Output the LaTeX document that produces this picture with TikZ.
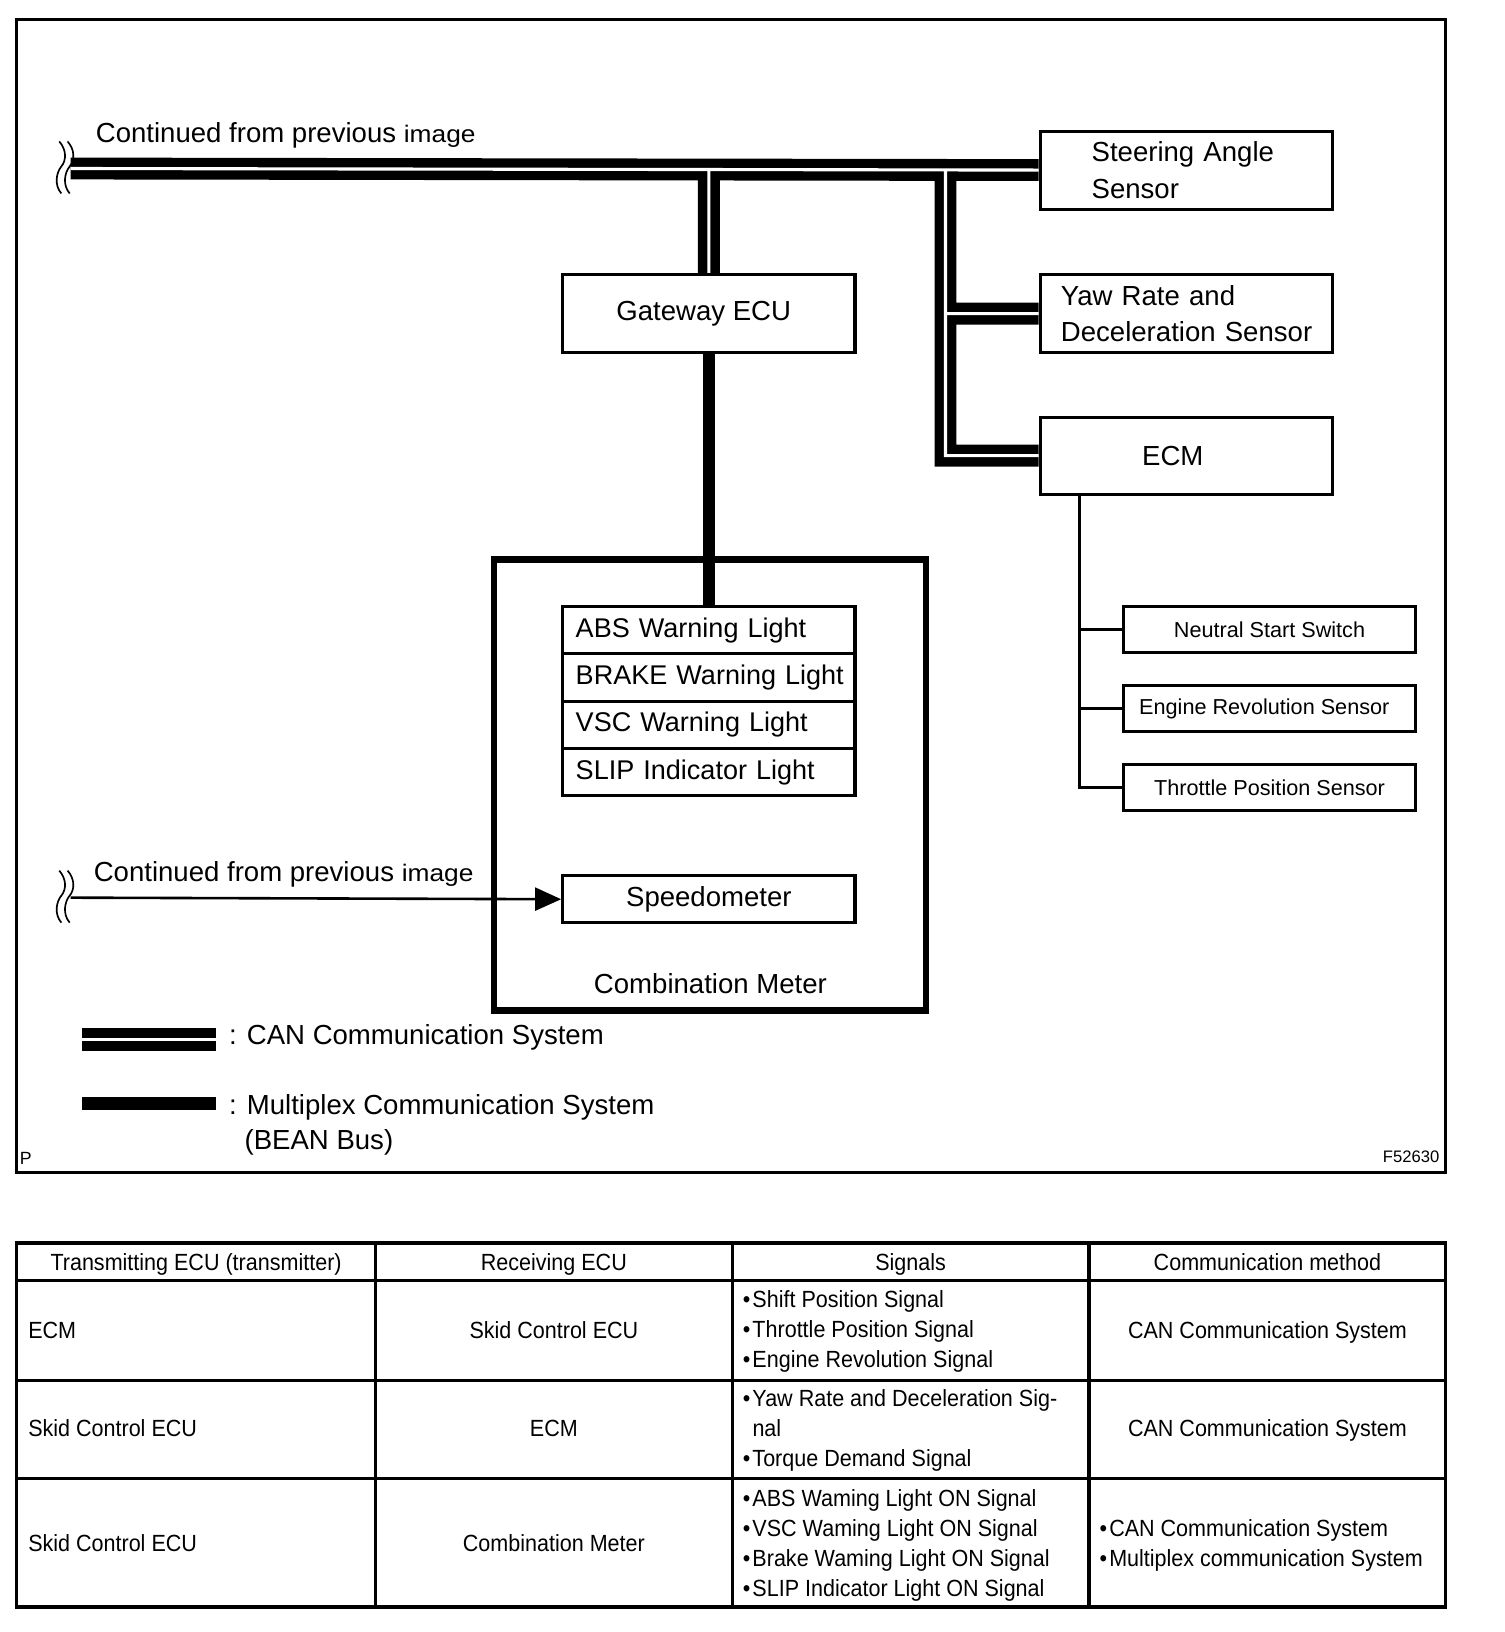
\documentclass[tikz,border=0pt]{standalone}
\usepackage{fontspec}
\setmainfont{Liberation Sans}
\newfontfamily\tabfont[FakeStretch=0.92]{Liberation Sans}
\newfontfamily\widefont[FakeStretch=1.1]{Liberation Sans}
\usetikzlibrary{arrows.meta}
\pgfdeclarelayer{bglayer}
\pgfdeclarelayer{connlayer}
\pgfsetlayers{bglayer,connlayer,main}
\hfuzz=20pt
\hbadness=10000
\begin{document}
\begin{tikzpicture}[x=1pt,y=-1pt,
  box/.style={draw, line width=3pt, fill=white, inner sep=0pt, anchor=north west,
    minimum width=281pt, font=\fontsize{26.5}{35}\selectfont},
  lbox/.style={box, align=left},
  wlbox/.style={box, minimum height=45.5pt, align=left, text width=256pt,
    inner xsep=12.5pt, font=\fontsize{26}{30}\selectfont},
  sbox/.style={box, minimum height=44.5pt, font=\fontsize{20.8}{24}\selectfont},
  canblack/.style={line width=21pt, line join=miter},
  canwhite/.style={line width=3pt, white, line join=miter},
  bean/.style={line width=11.5pt},
  wire/.style={line width=3pt},
  sigline/.style={line width=2.5pt, -{Triangle[length=25pt,width=22pt]}},
  breakmark/.style={line width=1.6pt},
  tabline/.style={line width=3pt},
  txt/.style={inner sep=0pt, font=\fontsize{26.5}{35}\selectfont},
  tab/.style={inner sep=0pt, font=\tabfont\fontsize{22.5}{29}\selectfont},
  smalltxt/.style={inner sep=0pt, font=\fontsize{16}{18}\selectfont}
]
\begin{pgfonlayer}{bglayer}
  \fill[white] (0,0) rectangle (1446,1569);
\end{pgfonlayer}
\useasboundingbox (0,0) rectangle (1446,1569);

% outer frame
\draw[line width=3pt] (16,19) rectangle (1390,1127);

% boxes
\node[lbox, minimum height=75pt, text width=182pt, inner xsep=49.5pt] (sas) at (998.5,124.5) {\mbox{Steering Angle}\\\mbox{Sensor}};
\node[lbox, minimum height=75pt, text width=241pt, inner xsep=20pt] (yaw) at (998.5,262.5) {\mbox{Yaw Rate and}\\\mbox{Deceleration Sensor}};
\node[box, minimum height=74pt] (ecm) at (998.5,399.5) {\hspace*{-26pt}ECM};
\node[box, minimum height=75pt] (gw) at (539.5,262.5) {\hspace*{-10pt}Gateway ECU};

\node[draw, line width=6pt, anchor=north west, inner sep=0pt,
  minimum width=415.5pt, minimum height=433.5pt] (cm) at (472,535) {};
\node[wlbox] (wabs) at (539.5,581.5) {\mbox{ABS Warning Light}};
\node[wlbox] (wbrake) at (539.5,627) {\mbox{BRAKE Warning Light}};
\node[wlbox] (wvsc) at (539.5,672.5) {\mbox{VSC Warning Light}};
\node[wlbox] (wslip) at (539.5,718) {\raisebox{-3pt}{\mbox{SLIP Indicator Light}}};
\node[box, minimum height=45pt] (spd) at (539.5,840.5) {Speedometer};
\node[txt] (cmlabel) at (683,946) {Combination Meter};

\node[sbox] (nss) at (1078.5,581.5) {Neutral Start Switch};
\node[sbox] (ers) at (1078.5,657.5) {\hspace*{-10pt}Engine Revolution Sensor};
\node[sbox] (tps) at (1078.5,733.5) {Throttle Position Sensor};

% texts
\node[txt, anchor=base west] (cont1) at (92,137) {Continued from previous {\widefont\fontsize{23}{28}\selectfont image}};
\node[txt, anchor=base west] (cont2) at (90,847) {Continued from previous {\widefont\fontsize{23}{28}\selectfont image}};

% coordinates
\coordinate (busL) at (68,162);
\coordinate (jtop) at (909,162);
\coordinate (tap) at (1038,473.5);
\coordinate (arrL) at (68,863);

% connectors
\begin{pgfonlayer}{connlayer}
  \newcommand\canroutes{(busL) -- (sas.west)
    (gw.north |- busL) -- (gw.north)
    (jtop) |- (ecm.west)
    (jtop |- yaw.west) -- (yaw.west)}
  \draw[canblack] \canroutes;
  \draw[canwhite] \canroutes;
  \draw[bean] (gw.south) -- (wabs.north);
  \draw[wire] (tap) |- (tps.west);
  \draw[wire] (tap |- nss.west) -- (nss.west);
  \draw[wire] (tap |- ers.west) -- (ers.west);
  \draw[sigline] (arrL) -- (spd.west);
\end{pgfonlayer}

% break marks
\foreach \dy in {0,701}{
  \draw[breakmark] (57,136+\dy) .. controls (64,144+\dy) and (64,154+\dy) .. (59,160+\dy)
     .. controls (54,166+\dy) and (52,178+\dy) .. (59,186+\dy);
  \draw[breakmark] (65,136+\dy) .. controls (72,144+\dy) and (72,154+\dy) .. (67,160+\dy)
     .. controls (62,166+\dy) and (60,178+\dy) .. (67,186+\dy);
}

% legend
\coordinate (lgcanL) at (79,999);
\coordinate (lgcanR) at (208,999);
\coordinate (lgmuxL) at (79,1061);
\coordinate (lgmuxR) at (208,1061);
\draw[line width=22pt] (lgcanL) -- (lgcanR);
\draw[line width=3pt, white] (lgcanL) -- (lgcanR);
\draw[line width=12pt] (lgmuxL) -- (lgmuxR);
\node[txt, anchor=base west] (lg1) at (220,1004) {: CAN Communication System};
\node[txt, anchor=base west] (lg2) at (220,1071) {: Multiplex Communication System};
\node[txt, anchor=base west] (lg3) at (235,1105) {(BEAN Bus)};

\node[inner sep=0pt, anchor=base west, font=\fontsize{17}{19}\selectfont] (pmark) at (19,1120) {P};
\node[smalltxt, anchor=base east] (fig) at (1384,1118) {F52630};

% table
\draw[tabline] (16,1195) rectangle (1390,1545);
\draw[tabline] (16,1231) -- (1390,1231);
\draw[tabline] (16,1327) -- (1390,1327);
\draw[tabline] (16,1421) -- (1390,1421);
\draw[tabline] (361,1195) -- (361,1545);
\draw[tabline] (704,1195) -- (704,1545);
\draw[tabline] (1047,1195) -- (1047,1545);

\node[tab, anchor=base] (h1) at (188.5,1221) {Transmitting ECU (transmitter)};
\node[tab, anchor=base] (h2) at (532.5,1221) {Receiving ECU};
\node[tab, anchor=base] (h3) at (875.5,1221) {Signals};
\node[tab, anchor=base] (h4) at (1218.5,1221) {Communication method};

\node[tab, anchor=base west] (c11) at (27,1287) {ECM};
\node[tab, anchor=base] (c12) at (532.5,1287) {Skid Control ECU};
\node[tab, anchor=west, align=left] (c13) at (714,1280) {•\kern2pt Shift Position Signal\\•\kern2pt Throttle Position Signal\\•\kern2pt Engine Revolution Signal};
\node[tab, anchor=base] (c14) at (1218.5,1287) {CAN Communication System};

\node[tab, anchor=base west] (c21) at (27,1381) {Skid Control ECU};
\node[tab, anchor=base] (c22) at (532.5,1381) {ECM};
\node[tab, anchor=west, align=left] (c23) at (714,1375) {•\kern2pt Yaw Rate and Deceleration Sig-\\\hphantom{•\kern2pt }nal\\•\kern2pt Torque Demand Signal};
\node[tab, anchor=base] (c24) at (1218.5,1381) {CAN Communication System};

\node[tab, anchor=base west] (c31) at (27,1492) {Skid Control ECU};
\node[tab, anchor=base] (c32) at (532.5,1492) {Combination Meter};
\node[tab, anchor=west, align=left] (c33) at (714,1486) {•\kern2pt ABS Waming Light ON Signal\\•\kern2pt VSC Waming Light ON Signal\\•\kern2pt Brake Waming Light ON Signal\\•\kern2pt SLIP Indicator Light ON Signal};
\node[tab, anchor=west, align=left] (c34) at (1057,1486) {•\kern2pt CAN Communication System\\•\kern2pt Multiplex communication System};
\end{tikzpicture}
\end{document}
